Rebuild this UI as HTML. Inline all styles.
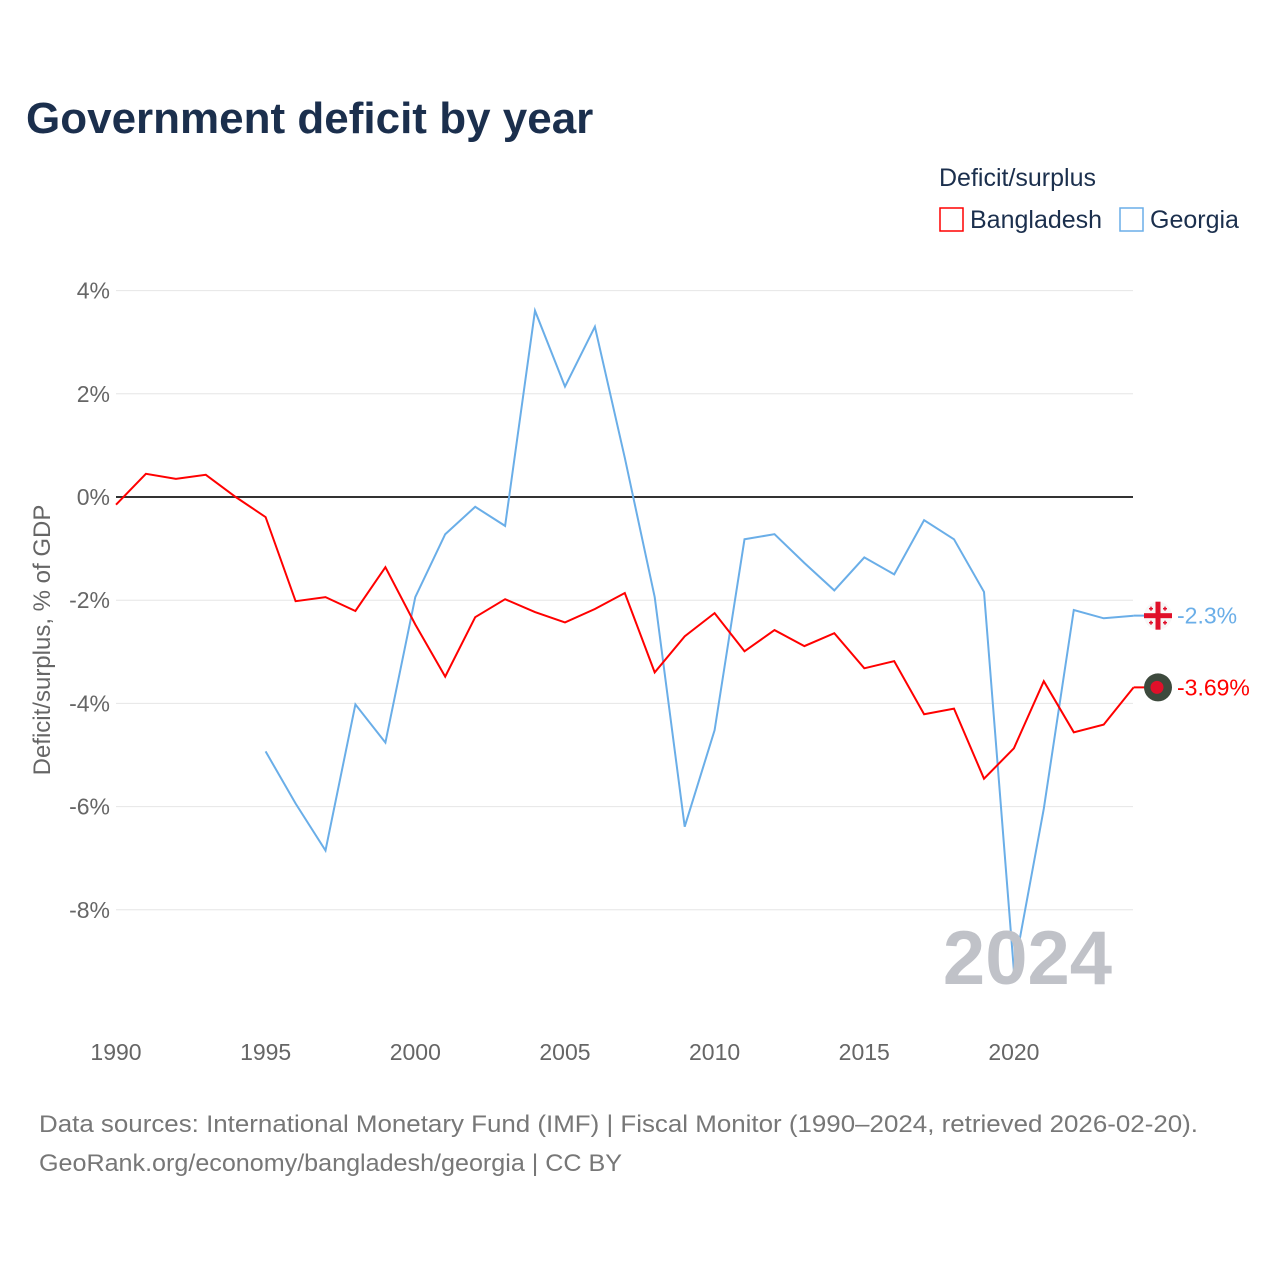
<!DOCTYPE html>
<html><head><meta charset="utf-8"><style>
body{margin:0;background:#fff;width:1280px;height:1280px;overflow:hidden;font-family:"Liberation Sans",sans-serif}
</style></head><body>
<svg id="chart" width="1280" height="1280" xmlns="http://www.w3.org/2000/svg" font-family="Liberation Sans, sans-serif">
<rect width="1280" height="1280" fill="#fff"/>
<text x="26" y="133" font-size="44" font-weight="bold" fill="#1b2f4d">Government deficit by year</text>
<text x="939" y="186" font-size="25" fill="#1b2f4d">Deficit/surplus</text>
<g><rect x="940" y="208" width="23" height="23" fill="none" stroke="#ff0000" stroke-width="1.5"/><text x="970" y="228" font-size="25" fill="#1b2f4d">Bangladesh</text></g>
<g><rect x="1120" y="208" width="23" height="23" fill="none" stroke="#6aaee8" stroke-width="1.5"/><text x="1150" y="228" font-size="25" fill="#1b2f4d">Georgia</text></g>
<text transform="translate(50,640) rotate(-90)" text-anchor="middle" font-size="24" fill="#666">Deficit/surplus, % of GDP</text>
<g id="grid"></g><g id="lines"></g>
<text x="1112" y="984" text-anchor="end" font-size="76" font-weight="bold" fill="#c0c2c8">2024</text>
<text x="39" y="1132" font-size="24" fill="#777" textLength="1159" lengthAdjust="spacingAndGlyphs">Data sources: International Monetary Fund (IMF) | Fiscal Monitor (1990–2024, retrieved 2026-02-20).</text>
<text x="39" y="1171" font-size="24" fill="#777" textLength="583" lengthAdjust="spacingAndGlyphs">GeoRank.org/economy/bangladesh/georgia | CC BY</text>
</svg>
<script>
const years=[];for(let y=1990;y<=2024;y++)years.push(y);
const bangladesh=[-0.15,0.45,0.35,0.43,0.0,-0.39,-2.02,-1.94,-2.21,-1.36,-2.47,-3.48,-2.33,-1.98,-2.23,-2.43,-2.17,-1.86,-3.4,-2.7,-2.25,-2.99,-2.58,-2.89,-2.64,-3.32,-3.18,-4.21,-4.1,-5.46,-4.87,-3.57,-4.56,-4.41,-3.69];
const georgia=[null,null,null,null,null,-4.93,-5.94,-6.85,-4.02,-4.76,-1.94,-0.72,-0.19,-0.56,3.61,2.14,3.3,0.76,-1.94,-6.39,-4.52,-0.82,-0.72,-1.28,-1.81,-1.17,-1.5,-0.45,-0.82,-1.84,-9.18,-6.04,-2.19,-2.35,-2.3];
const yTicks=[4,2,0,-2,-4,-6,-8];
const xTicks=[1990,1995,2000,2005,2010,2015,2020];
const NS='http://www.w3.org/2000/svg';
const X=y=>116+(y-1990)*29.93, Y=v=>497-v*51.6;
const grid=document.getElementById('grid'), lines=document.getElementById('lines');
function mk(tag,at,par){const e=document.createElementNS(NS,tag);for(const k in at)e.setAttribute(k,at[k]);par.appendChild(e);return e;}
yTicks.forEach(t=>{
 const l=mk('line',{x1:116,x2:1133,y1:Y(t),y2:Y(t),stroke:t===0?'#333':'#e6e6e6','stroke-width':t===0?2:1},grid);
 
 
 const tx=mk('text',{x:110,y:Y(t)+8,'text-anchor':'end','font-size':23,fill:'#666'},grid);tx.textContent=t+'%';
 
 
});
xTicks.forEach(t=>{
 const tx=mk('text',{x:X(t),y:1060,'text-anchor':'middle','font-size':23,fill:'#666'},grid);tx.textContent=t;
 
 
});
function path(vals,color,name){
 let d='';vals.forEach((v,i)=>{if(v===null)return;d+=(d?'L':'M')+X(years[i]).toFixed(1)+','+Y(v).toFixed(1);});
 const p=mk('path',{d:d,fill:'none',stroke:color,'stroke-width':2},lines);
 
 
}
path(georgia,'#6aaee8','georgia-line');
path(bangladesh,'#ff0000','bangladesh-line');
const last=years.length-1;
const gy=Y(georgia[last]),gx=1158;
mk('line',{x1:X(years[last]),x2:gx,y1:gy,y2:gy,stroke:'#6aaee8','stroke-width':2},lines);
const gm=mk('g',{},lines);


mk('circle',{cx:gx,cy:gy,r:14,fill:'#f7f7f7'},gm);
mk('rect',{x:gx-14,y:gy-2.5,width:28,height:5,fill:'#e0102a'},gm);
mk('rect',{x:gx-2.5,y:gy-14,width:5,height:28,fill:'#e0102a'},gm);
[[-7,-7],[7,-7],[-7,7],[7,7]].forEach(([a,b])=>{mk('rect',{x:gx+a-2,y:gy+b-0.75,width:4,height:1.5,fill:'#e0102a'},gm);mk('rect',{x:gx+a-0.75,y:gy+b-2,width:1.5,height:4,fill:'#e0102a'},gm);});
const gl=mk('text',{x:1177,y:gy+8,'font-size':23,fill:'#6aaee8'},lines);gl.textContent=georgia[last]+'%';


const by=Y(bangladesh[last]);
mk('line',{x1:X(years[last]),x2:gx,y1:by,y2:by,stroke:'#ff0000','stroke-width':2},lines);
const bm=mk('g',{},lines);


mk('circle',{cx:gx,cy:by,r:14,fill:'#3d4a3d'},bm);
mk('circle',{cx:gx-1,cy:by,r:6.5,fill:'#e0102a'},bm);
const bl=mk('text',{x:1177,y:by+8,'font-size':23,fill:'#ff0000'},lines);bl.textContent=bangladesh[last]+'%';


</script>
</body></html>
